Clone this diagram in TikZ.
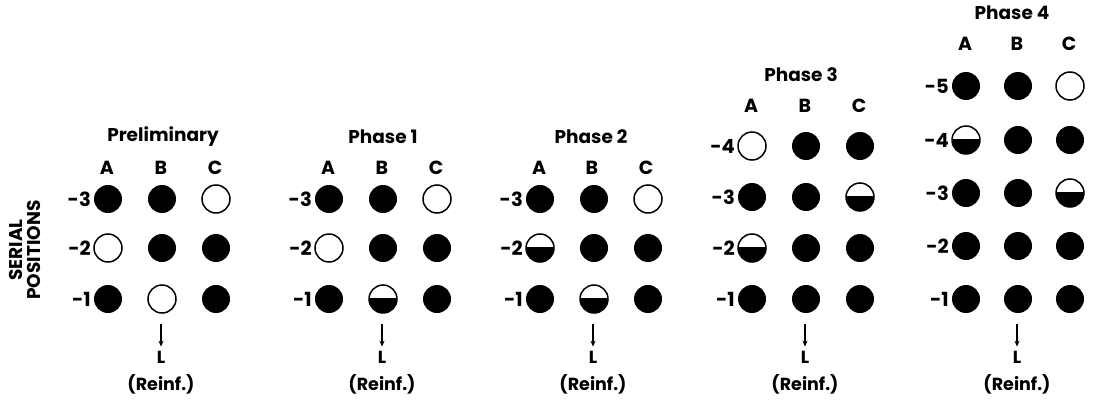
\documentclass[tikz,border=0pt]{standalone}
\usepackage{fontspec}
\setmainfont{Poppins}
\usetikzlibrary{arrows.meta}
\begin{document}
\begin{tikzpicture}[x=1pt,y=-1pt,
  dot/.style={circle,minimum size=28pt,inner sep=0pt},
  full/.style={dot,fill=black},
  empty/.style={dot,draw=black,line width=1.5pt},
  half/.style={dot,draw=black,line width=1.5pt,
    path picture={\fill[black] ([yshift=1.5pt]path picture bounding box.west) rectangle (path picture bounding box.south east);}},
  title/.style={font=\bfseries\fontsize{18.5}{18.5}\selectfont,inner sep=0pt},
  col/.style={font=\bfseries\fontsize{19}{19}\selectfont,inner sep=0pt},
  rowlbl/.style={font=\bfseries\fontsize{19.5}{19.5}\selectfont,inner sep=0pt,anchor=east},
  lbl/.style={font=\bfseries\fontsize{17.5}{17.5}\selectfont,inner sep=0pt},
  arr/.style={line width=1.1pt,-{Stealth[length=6pt,width=5pt]}}]
\useasboundingbox (0,0) rectangle (1109,415);

% axis label
\node[font=\bfseries\fontsize{18.5}{18.5}\selectfont,rotate=90,align=center,inner sep=0pt] (serial) at (25,250) {SERIAL\\[-1pt]POSITIONS};

% ---------- Preliminary ----------
\node[title] (p0t) at (163,137) {Preliminary};
\node[col] (p0A) at (107,168) {A};
\node[col] (p0B) at (161,168) {B};
\node[col] (p0C) at (215,168) {C};
\foreach \r/\y/\a/\b/\c in {3/199/full/full/empty,2/248/empty/full/full,1/299/full/empty/full}{
  \node[\a] (p0a\r) at (108,\y) {};
  \node[\b] (p0b\r) at (162,\y) {};
  \node[\c] (p0c\r) at (216,\y) {};
  \node[rowlbl] (p0l\r) at (91,\y) {-\r};
}
\coordinate (p0s) at (161,324);
\node[lbl] (p0L) at (161,357) {L};
\node[lbl] (p0R) at (161,384) {(Reinf.)};
\draw[arr] (p0s) -- ([yshift=4pt]p0L.north);

% ---------- Phase 1 ----------
\node[title] (p1t) at (383,137) {Phase 1};
\node[col] (p1A) at (328,168) {A};
\node[col] (p1B) at (382,168) {B};
\node[col] (p1C) at (436,168) {C};
\foreach \r/\y/\a/\b/\c in {3/199/full/full/empty,2/248/empty/full/full,1/299/full/half/full}{
  \node[\a] (p1a\r) at (329,\y) {};
  \node[\b] (p1b\r) at (383,\y) {};
  \node[\c] (p1c\r) at (437,\y) {};
  \node[rowlbl] (p1l\r) at (312,\y) {-\r};
}
\coordinate (p1s) at (382,324);
\node[lbl] (p1L) at (382,357) {L};
\node[lbl] (p1R) at (382,384) {(Reinf.)};
\draw[arr] (p1s) -- ([yshift=4pt]p1L.north);

% ---------- Phase 2 ----------
\node[title] (p2t) at (591,137) {Phase 2};
\node[col] (p2A) at (539,168) {A};
\node[col] (p2B) at (592,168) {B};
\node[col] (p2C) at (646,168) {C};
\foreach \r/\y/\a/\b/\c in {3/199/full/full/empty,2/248/half/full/full,1/299/full/half/full}{
  \node[\a] (p2a\r) at (540,\y) {};
  \node[\b] (p2b\r) at (594,\y) {};
  \node[\c] (p2c\r) at (648,\y) {};
  \node[rowlbl] (p2l\r) at (523,\y) {-\r};
}
\coordinate (p2s) at (593,324);
\node[lbl] (p2L) at (593,357) {L};
\node[lbl] (p2R) at (593,384) {(Reinf.)};
\draw[arr] (p2s) -- ([yshift=4pt]p2L.north);

% ---------- Phase 3 ----------
\node[title] (p3t) at (801,75) {Phase 3};
\node[col] (p3A) at (751,106) {A};
\node[col] (p3B) at (805,106) {B};
\node[col] (p3C) at (859,106) {C};
\foreach \r/\y/\a/\b/\c in {4/146/empty/full/full,3/197/full/full/half,2/248/half/full/full,1/299/full/full/full}{
  \node[\a] (p3a\r) at (752,\y) {};
  \node[\b] (p3b\r) at (806,\y) {};
  \node[\c] (p3c\r) at (860,\y) {};
  \node[rowlbl] (p3l\r) at (735,\y) {-\r};
}
\coordinate (p3s) at (805,324);
\node[lbl] (p3L) at (805,357) {L};
\node[lbl] (p3R) at (805,384) {(Reinf.)};
\draw[arr] (p3s) -- ([yshift=4pt]p3L.north);

% ---------- Phase 4 ----------
\node[title] (p4t) at (1012,13) {Phase 4};
\node[col] (p4A) at (965,44) {A};
\node[col] (p4B) at (1017,44) {B};
\node[col] (p4C) at (1069,44) {C};
\foreach \r/\y/\a/\b/\c in {5/86/full/full/empty,4/140/half/full/full,3/193/full/full/half,2/246/full/full/full,1/299/full/full/full}{
  \node[\a] (p4a\r) at (966,\y) {};
  \node[\b] (p4b\r) at (1018,\y) {};
  \node[\c] (p4c\r) at (1070,\y) {};
  \node[rowlbl] (p4l\r) at (949,\y) {-\r};
}
\coordinate (p4s) at (1017,324);
\node[lbl] (p4L) at (1017,357) {L};
\node[lbl] (p4R) at (1017,384) {(Reinf.)};
\draw[arr] (p4s) -- ([yshift=4pt]p4L.north);
\end{tikzpicture}
\end{document}
